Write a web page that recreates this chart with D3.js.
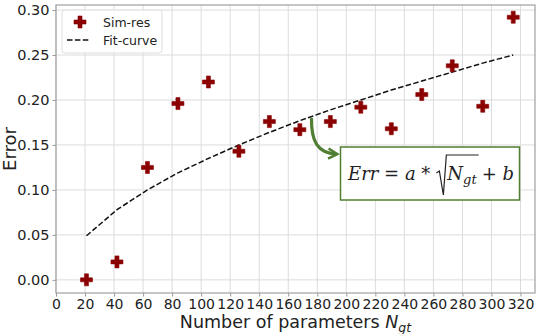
<!DOCTYPE html>
<html>
<head>
<meta charset="UTF-8">
<title>Error vs N_gt</title>
<script src="https://d3js.org/d3.v7.min.js"></script>
<style>
    * { margin: 0; padding: 0; box-sizing: border-box; }
    body { background: white; font-family: "DejaVu Sans", sans-serif; }
    svg text { font-family: "DejaVu Sans", sans-serif; fill: #222; }
</style>
</head>
<body>
<div id="chart"></div>
<script>
    // number of parameters for each simulation
    const nParams = [21, 42, 63, 84, 105, 126, 147, 168, 189, 210, 231, 252, 273, 294, 315];
    // simulated error
    const simErr = [0.000, 0.020, 0.125, 0.196, 0.220, 0.143, 0.176, 0.167, 0.176, 0.192, 0.168, 0.206, 0.238, 0.193, 0.292];
    // fitted curve Err = a*sqrt(N) + b, values read at the same N
    const fitErr = [0.049, 0.078, 0.100, 0.119, 0.135, 0.150, 0.164, 0.177, 0.189, 0.200, 0.211, 0.221, 0.231, 0.241, 0.250];
    const xTicks = d3.range(0, 321, 20);
    const yTicks = [0, 0.05, 0.10, 0.15, 0.20, 0.25, 0.30];

    const W = 540, H = 334;
    const margin = { top: 5, right: 5, bottom: 41, left: 56 };
    const width = W - margin.left - margin.right,
          height = H - margin.top - margin.bottom;

    const svg = d3.select("#chart").append("svg")
        .attr("width", W).attr("height", H);
    const g = svg.append("g").attr("transform", `translate(${margin.left},${margin.top})`);

    const x = d3.scaleLinear().domain([0, 330]).range([0, width]);
    const y = d3.scaleLinear().domain([-0.0146, 0.3056]).range([height, 0]);

    // grid
    g.append("g").selectAll("line").data(xTicks).join("line")
        .attr("x1", d => x(d)).attr("x2", d => x(d))
        .attr("y1", 0).attr("y2", height)
        .attr("stroke", "#dcdcdc").attr("stroke-width", 1);
    g.append("g").selectAll("line").data(yTicks).join("line")
        .attr("y1", d => y(d)).attr("y2", d => y(d))
        .attr("x1", 0).attr("x2", width)
        .attr("stroke", "#dcdcdc").attr("stroke-width", 1);

    // axes
    const xAxis = g.append("g")
        .attr("transform", `translate(0,${height})`)
        .call(d3.axisBottom(x).tickValues(xTicks).tickSize(3.5).tickPadding(3).tickFormat(d3.format("d")));
    const yAxis = g.append("g")
        .call(d3.axisLeft(y).tickValues(yTicks).tickSize(3.5).tickPadding(3).tickFormat(d3.format(".2f")));
    [xAxis, yAxis].forEach(a => {
        a.select(".domain").remove();
        a.selectAll("line").attr("stroke", "#999");
        a.selectAll("text").style("font-size", "14px").style("fill", "#222");
    });
    yAxis.selectAll("text").style("font-size", "14.5px");

    // frame
    g.append("rect")
        .attr("width", width).attr("height", height)
        .attr("fill", "none").attr("stroke", "#a0a0a0").attr("stroke-width", 1.2);

    // fit curve
    g.append("path")
        .datum(nParams.map((n, i) => [n, fitErr[i]]))
        .attr("fill", "none").attr("stroke", "#111")
        .attr("stroke-width", 1.5).attr("stroke-dasharray", "5.5,2.4")
        .attr("d", d3.line().x(d => x(d[0])).y(d => y(d[1])));

    // plus marker
    const plus = d3.symbol().type(d3.symbolCross).size(80);
    g.append("g").selectAll("path").data(nParams).join("path")
        .attr("transform", (d, i) => `translate(${x(d)},${y(simErr[i])})`)
        .attr("d", plus())
        .attr("fill", "#8b0000").attr("stroke", "#8b0000").attr("stroke-width", 0.6);

    // legend
    const leg = svg.append("g").attr("transform", "translate(62,10)");
    leg.append("rect").attr("width", 100).attr("height", 43).attr("rx", 3)
        .attr("fill", "white").attr("fill-opacity", 0.85)
        .attr("stroke", "#dddddd");
    leg.append("path").attr("transform", "translate(18,12)").attr("d", plus())
        .attr("fill", "#8b0000").attr("stroke", "#8b0000").attr("stroke-width", 0.6);
    leg.append("text").attr("x", 41).attr("y", 16.5).style("font-size", "12.5px").text("Sim-res");
    leg.append("line").attr("x1", 5).attr("x2", 27).attr("y1", 30).attr("y2", 30)
        .attr("stroke", "#111").attr("stroke-width", 1.5).attr("stroke-dasharray", "5.5,2.4");
    leg.append("text").attr("x", 41).attr("y", 34.5).style("font-size", "12.5px").text("Fit-curve");

    // axis labels
    svg.append("text")
        .attr("transform", `translate(16,${margin.top + height / 2}) rotate(-90)`)
        .attr("text-anchor", "middle").style("font-size", "18px").text("Error");
    const xl = svg.append("text")
        .attr("x", margin.left + width / 2).attr("y", 328)
        .attr("text-anchor", "middle").style("font-size", "17.5px");
    xl.append("tspan").text("Number of parameters ");
    xl.append("tspan").style("font-style", "italic").text("N");
    xl.append("tspan").style("font-style", "italic").style("font-size", "12.5px")
        .attr("dy", 4).text("gt");

    // annotation box with formula
    const green = "#507e32";
    svg.append("rect").attr("x", 340.5).attr("y", 147).attr("width", 179).attr("height", 53)
        .attr("fill", "white").attr("stroke", green).attr("stroke-width", 1.5);

    const defs = svg.append("defs");
    defs.append("marker").attr("id", "head")
        .attr("viewBox", "0 0 10 10").attr("refX", 7).attr("refY", 5)
        .attr("markerWidth", 4).attr("markerHeight", 4).attr("orient", "auto")
        .append("path").attr("d", "M1,1 L8,5 L1,9").attr("fill", "none")
        .attr("stroke", green).attr("stroke-width", 2);
    svg.append("path")
        .attr("d", "M311.5,118 C311,142 318,153 336,154")
        .attr("fill", "none").attr("stroke", green).attr("stroke-width", 3.2)
        .attr("marker-end", "url(#head)");

    const fs = 18;
    const ff = "'DejaVu Serif', serif";
    const base = 180;
    const f1 = svg.append("text").attr("x", 348).attr("y", base)
        .style("font-family", ff).style("font-size", fs + "px");
    f1.append("tspan").style("font-style", "italic").text("Err");
    f1.append("tspan").text(" = ");
    f1.append("tspan").style("font-style", "italic").text("a");
    f1.append("tspan").text(" *");
    const w1 = f1.node().getComputedTextLength();
    const rx = 348 + w1 + 6;
    // radicand
    const f2 = svg.append("text").attr("x", rx + 11).attr("y", base)
        .style("font-family", ff).style("font-size", fs + "px");
    f2.append("tspan").style("font-style", "italic").text("N");
    f2.append("tspan").style("font-style", "italic").style("font-size", "13px").attr("dy", 4).text("gt");
    const w2 = f2.node().getComputedTextLength();
    svg.append("path")
        .attr("d", `M${rx},${base - 7} L${rx + 3},${base - 9} L${rx + 7},${base + 15} L${rx + 10},${base - 25} L${rx + 11 + w2 + 2},${base - 25}`)
        .attr("fill", "none").attr("stroke", "#222").attr("stroke-width", 1.2);
    svg.append("text").attr("x", rx + 11 + w2 + 5).attr("y", base)
        .style("font-family", ff).style("font-size", fs + "px")
        .html('+ <tspan font-style="italic">b</tspan>');
</script>
</body>
</html>
